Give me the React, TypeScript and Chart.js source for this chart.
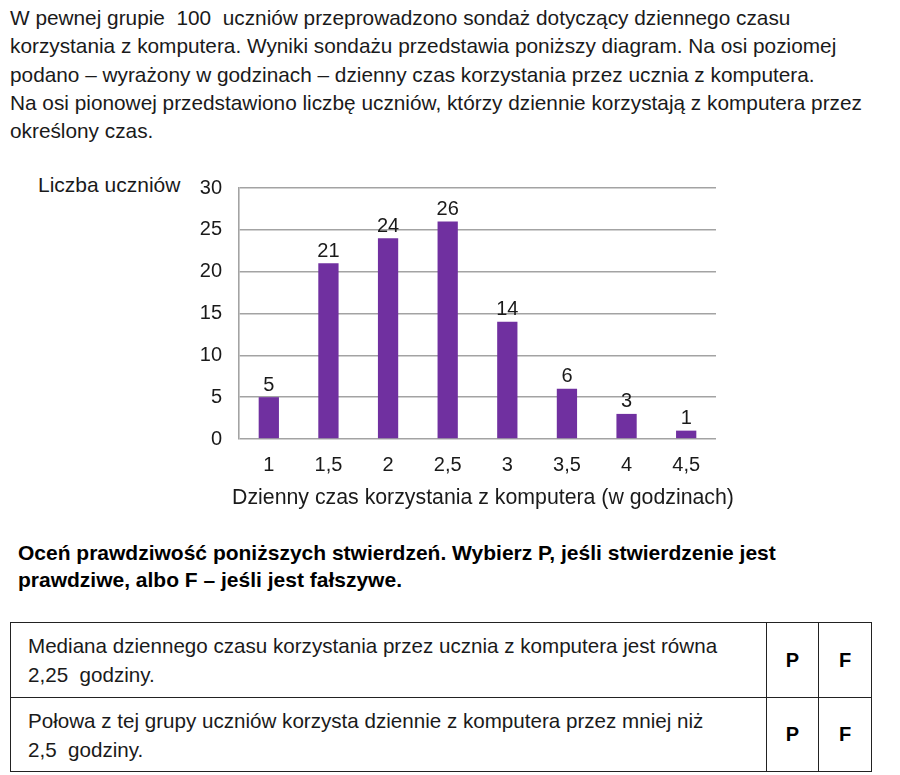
import React, { useEffect, useRef } from "react";
import { Chart, registerables } from "chart.js";

Chart.register(...registerables);

const categories = ["1", "1,5", "2", "2,5", "3", "3,5", "4", "4,5"];
const students = [5, 21, 24, 26, 14, 6, 3, 1];
const yMin = 0;
const yMax = 30;
const yStep = 5;
const xTitle = "Dzienny czas korzystania z komputera (w godzinach)";

const FONT = "'Liberation Sans', Arial, Helvetica, sans-serif";
const TEXT = "#1a1a1a";
const GRID = "#a3a3a3";
const BAR = "#7030A0";

const introLines = [
  "W pewnej grupie\u00a0 100\u00a0 uczniów przeprowadzono sondaż dotyczący dziennego czasu",
  "korzystania z komputera. Wyniki sondażu przedstawia poniższy diagram. Na osi poziomej",
  "podano – wyrażony w godzinach – dzienny czas korzystania przez ucznia z komputera.",
  "Na osi pionowej przedstawiono liczbę uczniów, którzy dziennie korzystają z komputera przez",
  "określony czas.",
];

const taskLines = [
  "Oceń prawdziwość poniższych stwierdzeń. Wybierz P, jeśli stwierdzenie jest",
  "prawdziwe, albo F – jeśli jest fałszywe.",
];

const statements = [
  ["Mediana dziennego czasu korzystania przez ucznia z komputera jest równa", "2,25\u00a0 godziny."],
  ["Połowa z tej grupy uczniów korzysta dziennie z komputera przez mniej niż", "2,5\u00a0 godziny."],
];

const valueLabels = {
  id: "valueLabels",
  afterDatasetsDraw(chart: any) {
    const ctx = chart.ctx;
    const meta = chart.getDatasetMeta(0);
    ctx.save();
    ctx.font = `20px ${FONT}`;
    ctx.fillStyle = TEXT;
    ctx.textAlign = "center";
    ctx.textBaseline = "bottom";
    meta.data.forEach((bar: any, i: number) => {
      ctx.fillText(String(students[i]), bar.x, bar.y - 2);
    });
    // x-axis title (drawn here so it is not squeezed to the plot width)
    const area = chart.chartArea;
    ctx.font = `21.3px ${FONT}`;
    ctx.textBaseline = "middle";
    ctx.fillText(xTitle, (area.left + area.right) / 2 + 5.5, chart.height - 12);
    ctx.restore();
  },
};

function BarChart() {
  const ref = useRef<HTMLCanvasElement | null>(null);
  useEffect(() => {
    if (!ref.current) return;
    const chart = new Chart(ref.current, {
      type: "bar",
      data: {
        labels: categories,
        datasets: [
          {
            data: students,
            backgroundColor: BAR,
            borderWidth: 0,
            barPercentage: 0.34,
            categoryPercentage: 1,
          },
        ],
      },
      options: {
        responsive: false,
        animation: false,
        devicePixelRatio: 1,
        layout: { padding: { top: 6, right: 34, left: 0, bottom: 0 } },
        plugins: {
          legend: { display: false },
          tooltip: { enabled: false },
          title: { display: false },
        },
        scales: {
          x: {
            grid: { display: false, drawTicks: false },
            border: { display: false },
            ticks: {
              color: TEXT,
              font: { family: FONT, size: 20 },
              padding: 14,
              maxRotation: 0,
            },
            title: { display: false },
            afterFit: (s: any) => {
              s.height = 71;
            },
          },
          y: {
            min: yMin,
            max: yMax,
            grid: { color: GRID, lineWidth: 1.6, drawTicks: false },
            border: { display: true, color: GRID, width: 1.6 },
            ticks: {
              stepSize: yStep,
              color: TEXT,
              font: { family: FONT, size: 20 },
              padding: 17,
            },
            afterFit: (s: any) => {
              s.width = 209;
            },
          },
        },
      },
      plugins: [valueLabels],
    } as any);
    return () => chart.destroy();
  }, []);
  return <canvas ref={ref} width={720} height={351} style={{ display: "block" }} />;
}

export default function App() {
  const base: React.CSSProperties = {
    position: "absolute",
    whiteSpace: "nowrap",
    fontFamily: FONT,
    color: TEXT,
  };
  return (
    <div
      style={{
        position: "absolute",
        left: 0,
        top: 0,
        width: 900,
        height: 775,
        background: "#fff",
        overflow: "hidden",
        fontFamily: FONT,
      }}
    >
      {introLines.map((t, i) => (
        <div
          key={i}
          style={{ ...base, left: 10, top: 4 + i * 28.3, fontSize: 20.8, lineHeight: "28px" }}
        >
          {t}
        </div>
      ))}

      <div style={{ ...base, left: 38, top: 172, fontSize: 21, lineHeight: "26px" }}>
        Liczba uczniów
      </div>

      <div style={{ position: "absolute", left: 30, top: 159, width: 720, height: 351 }}>
        <BarChart />
      </div>

      {taskLines.map((t, i) => (
        <div
          key={i}
          style={{
            ...base,
            left: 18,
            top: 539 + i * 27,
            fontSize: 21,
            fontWeight: "bold",
            lineHeight: "28px",
            color: "#000",
          }}
        >
          {t}
        </div>
      ))}

      <table
        style={{
          position: "absolute",
          left: 10,
          top: 622,
          borderCollapse: "collapse",
          tableLayout: "fixed",
          width: 861,
          fontFamily: FONT,
          color: TEXT,
        }}
      >
        <colgroup>
          <col style={{ width: 756 }} />
          <col style={{ width: 52 }} />
          <col style={{ width: 53 }} />
        </colgroup>
        <tbody>
          {statements.map((lines, i) => (
            <tr key={i} style={{ height: i === 0 ? 75 : 74 }}>
              <td
                style={{
                  border: "1.5px solid #222",
                  padding: "0 0 0 17px",
                  fontSize: 20.6,
                  lineHeight: "29px",
                  verticalAlign: "middle",
                  whiteSpace: "nowrap",
                }}
              >
                {lines[0]}
                <br />
                {lines[1]}
              </td>
              <td
                style={{
                  border: "1.5px solid #222",
                  textAlign: "center",
                  fontWeight: "bold",
                  fontSize: 20,
                  color: "#000",
                }}
              >
                P
              </td>
              <td
                style={{
                  border: "1.5px solid #222",
                  textAlign: "center",
                  fontWeight: "bold",
                  fontSize: 20,
                  color: "#000",
                }}
              >
                F
              </td>
            </tr>
          ))}
        </tbody>
      </table>
    </div>
  );
}
